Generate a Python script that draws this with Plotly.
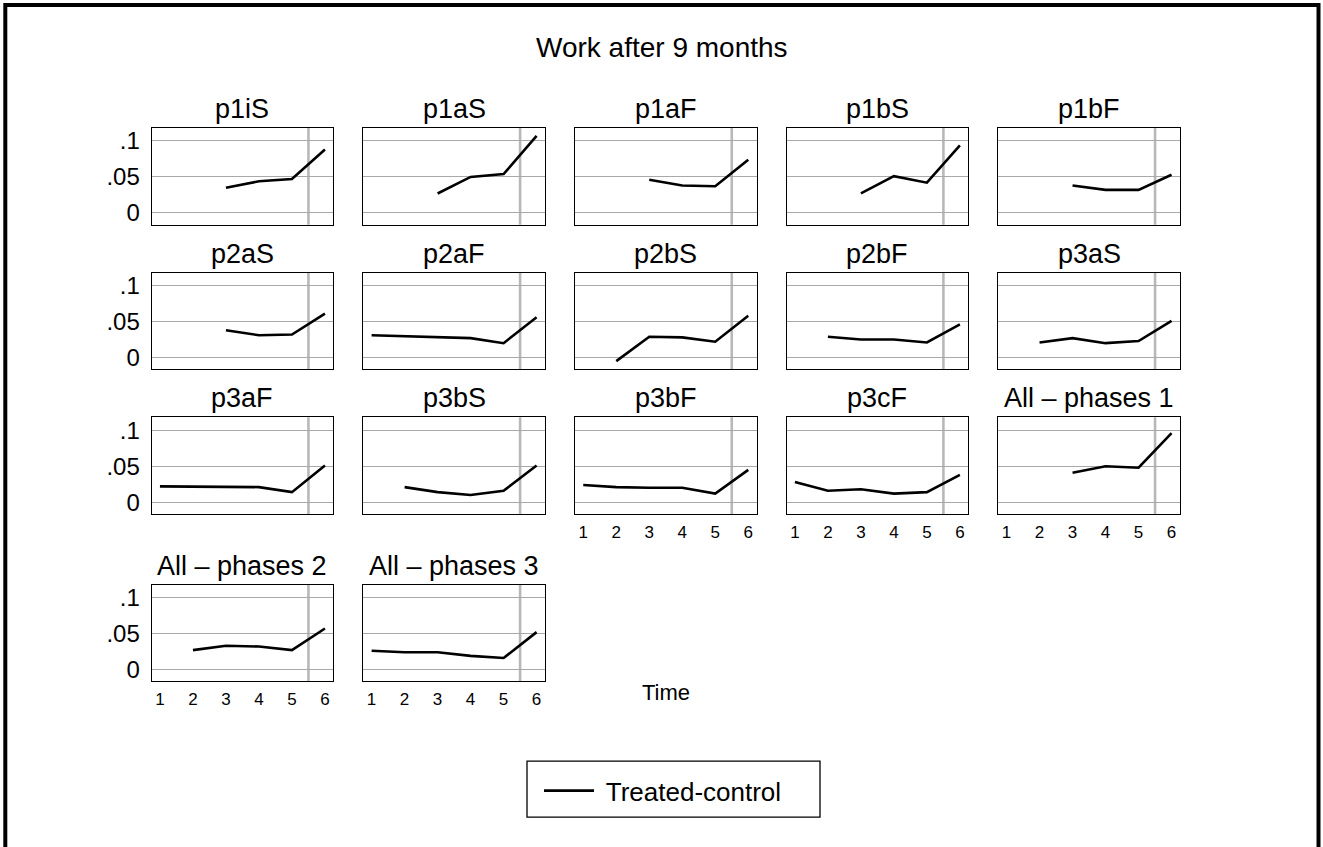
import plotly.graph_objects as go

# ---------------- data ----------------
time_points = [1, 2, 3, 4, 5, 6]
treatment_time = 5.5

panel_titles = ["p1iS", "p1aS", "p1aF", "p1bS", "p1bF",
                "p2aS", "p2aF", "p2bS", "p2bF", "p3aS",
                "p3aF", "p3bS", "p3bF", "p3cF", "All – phases 1",
                "All – phases 2", "All – phases 3"]

p1iS = [None, None, 0.035, 0.044, 0.047, 0.088]
p1aS = [None, None, 0.027, 0.050, 0.054, 0.107]
p1aF = [None, None, 0.046, 0.038, 0.037, 0.074]
p1bS = [None, None, 0.027, 0.051, 0.042, 0.094]
p1bF = [None, None, 0.038, 0.032, 0.032, 0.053]
p2aS = [None, None, 0.038, 0.031, 0.032, 0.061]
p2aF = [0.031, 0.030, 0.029, 0.027, 0.020, 0.056]
p2bS = [None, -0.005, 0.029, 0.028, 0.022, 0.058]
p2bF = [None, 0.029, 0.025, 0.025, 0.021, 0.046]
p3aS = [None, 0.021, 0.027, 0.020, 0.023, 0.051]
p3aF = [0.022, 0.022, 0.022, 0.021, 0.014, 0.051]
p3bS = [None, 0.021, 0.014, 0.010, 0.016, 0.051]
p3bF = [0.024, 0.021, 0.020, 0.020, 0.012, 0.045]
p3cF = [0.028, 0.016, 0.018, 0.012, 0.014, 0.038]
all_phases_1 = [None, None, 0.041, 0.050, 0.048, 0.096]
all_phases_2 = [None, 0.027, 0.033, 0.032, 0.027, 0.057]
all_phases_3 = [0.026, 0.024, 0.024, 0.019, 0.016, 0.052]

series = [p1iS, p1aS, p1aF, p1bS, p1bF, p2aS, p2aF, p2bS, p2bF, p3aS,
          p3aF, p3bS, p3bF, p3cF, all_phases_1, all_phases_2, all_phases_3]

y_tickvals = [0, 0.05, 0.1]
y_ticktext = ["0", ".05", ".1"]
x_ticktext = ["1", "2", "3", "4", "5", "6"]

# ---------------- layout geometry (pixels) ----------------
W, H = 1323, 847
col_left0, col_step, panel_w = 151.7, 211.65, 181.5
row_tops = [127.3, 272.3, 417.3, 585.0]
panel_h = 97.0
FONT = "Liberation Sans, Arial, Helvetica, sans-serif"

# panels that show x tick labels
x_label_panels = {12, 13, 14, 15, 16}

fig = go.Figure()
layout = dict(
    width=W, height=H, autosize=False,
    margin=dict(l=0, r=0, t=0, b=0, pad=0),
    paper_bgcolor="white", plot_bgcolor="white",
    font=dict(family=FONT, color="black"),
    showlegend=True,
)
annotations = []
shapes = []

for i, (title, vals) in enumerate(zip(panel_titles, series)):
    r, c = divmod(i, 5)
    n = i + 1
    xs = "" if n == 1 else str(n)
    x0 = col_left0 + c * col_step
    top = row_tops[r]
    xd = [x0 / W, (x0 + panel_w) / W]
    yd = [1 - (top + panel_h) / H, 1 - top / H]

    fig.add_trace(go.Scatter(
        x=time_points, y=vals, mode="lines",
        line=dict(color="black", width=2.6),
        name=" Treated-control", showlegend=(i == 0),
        xaxis="x" + xs, yaxis="y" + xs, hoverinfo="skip",
    ))

    layout["xaxis" + xs] = dict(
        domain=xd, anchor="y" + xs, range=[0.75, 6.25],
        showgrid=False, zeroline=False,
        showline=True, mirror=True, linecolor="black", linewidth=1.3,
        tickmode="array", tickvals=time_points, ticktext=x_ticktext,
        showticklabels=(i in x_label_panels),
        ticks="outside", ticklen=2, tickcolor="rgba(0,0,0,0)",
        tickfont=dict(size=17, family=FONT, color="black"),
        fixedrange=True,
    )
    layout["yaxis" + xs] = dict(
        domain=yd, anchor="x" + xs, range=[-0.0165, 0.118],
        showgrid=True, gridcolor="#a9a9a9", gridwidth=1.3, zeroline=False,
        showline=True, mirror=True, linecolor="black", linewidth=1.3,
        tickmode="array", tickvals=y_tickvals, ticktext=y_ticktext,
        showticklabels=(c == 0),
        ticks="outside", ticklen=6, tickcolor="rgba(0,0,0,0)",
        tickfont=dict(size=24, family=FONT, color="black"),
        fixedrange=True,
    )

    shapes.append(dict(
        type="line", xref="x" + xs, yref="y" + xs + " domain",
        x0=treatment_time, x1=treatment_time, y0=0, y1=1,
        line=dict(color="#b8b8b8", width=2.6), layer="below",
    ))

    annotations.append(dict(
        text=title, xref="paper", yref="paper",
        x=(x0 + panel_w / 2) / W, y=1 - (top - 2) / H,
        xanchor="center", yanchor="bottom", showarrow=False,
        font=dict(size=27, family=FONT, color="black"),
    ))

# overall title and x axis title
annotations.append(dict(
    text="Work after 9 months", xref="paper", yref="paper",
    x=661.5 / W, y=1 - 47 / H, xanchor="center", yanchor="middle",
    showarrow=False, font=dict(size=28, family=FONT, color="black"),
))
annotations.append(dict(
    text="Time", xref="paper", yref="paper",
    x=665.5 / W, y=1 - 693 / H, xanchor="center", yanchor="middle",
    showarrow=False, font=dict(size=22, family=FONT, color="black"),
))

# outer frame
shapes.append(dict(
    type="rect", xref="paper", yref="paper",
    x0=5.3 / W, x1=1318.5 / W, y0=-0.05, y1=1 - 4 / H,
    line=dict(color="black", width=4), fillcolor="rgba(0,0,0,0)",
))
# legend frame
shapes.append(dict(
    type="rect", xref="paper", yref="paper",
    x0=527 / W, x1=820 / W, y0=1 - 818 / H, y1=1 - 762 / H,
    line=dict(color="black", width=1.3), fillcolor="rgba(0,0,0,0)",
))

layout["annotations"] = annotations
layout["shapes"] = shapes
layout["legend"] = dict(
    x=539 / W, y=1 - 768 / H, xanchor="left", yanchor="top",
    borderwidth=0, bgcolor="rgba(0,0,0,0)",
    font=dict(size=26, family=FONT, color="black"),
    itemwidth=50, orientation="h",
)
fig.update_layout(**layout)

fig.write_html(
    "out.html",
    config={"displayModeBar": False},
    post_script="document.body.style.margin='0';document.body.style.overflow='hidden';",
)
